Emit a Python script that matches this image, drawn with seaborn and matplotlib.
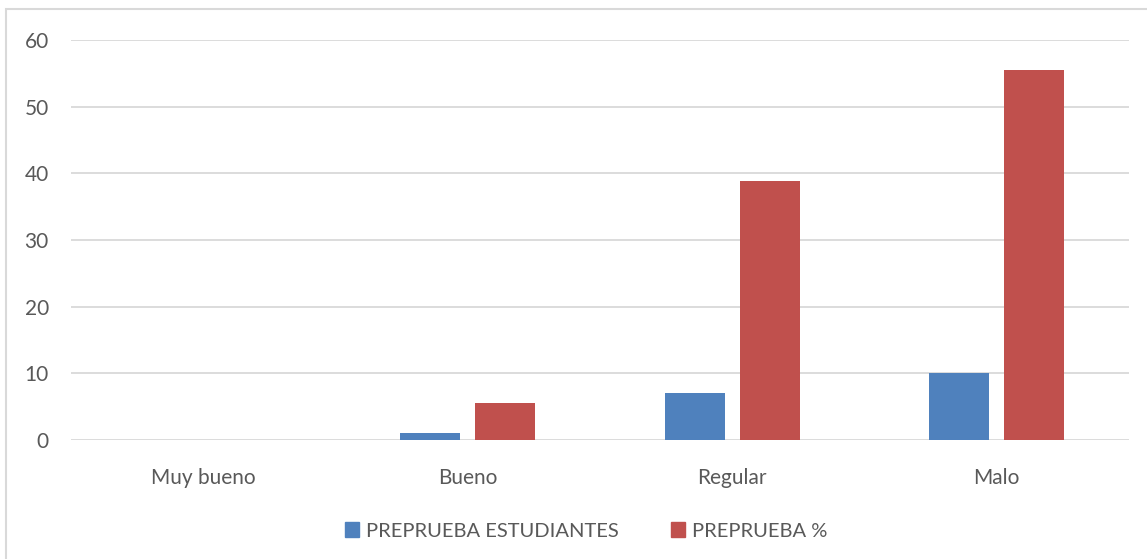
import matplotlib.pyplot as plt
import matplotlib.patches as mpatches
import pandas as pd
import seaborn as sns

categorias = ["Muy bueno", "Bueno", "Regular", "Malo"]
estudiantes = [0, 1, 7, 10]
porcentaje = [0, 5.56, 38.89, 55.56]
series = ["PREPRUEBA ESTUDIANTES", "PREPRUEBA %"]
colores = ["#4f81bd", "#c0504d"]

df = pd.DataFrame({
    "categoria": categorias * 2,
    "valor": estudiantes + porcentaje,
    "serie": [series[0]] * 4 + [series[1]] * 4,
})

sns.set_theme(style="white")
plt.rcParams["font.family"] = ["Lato", "DejaVu Sans"]
gris = "#595959"

fig = plt.figure(figsize=(11.47, 5.59), dpi=100)
W, H = 1147, 559
ax = fig.add_axes([71 / W, 1 - 440 / H, (1129 - 71) / W, 400 / H])

sns.barplot(data=df, x="categoria", y="valor", hue="serie", order=categorias,
            hue_order=series, palette=colores, width=0.567, gap=0.2,
            saturation=1, linewidth=0, ax=ax, legend=False)

ax.set_ylim(0, 60)
ax.set_yticks(range(0, 61, 10))
ax.yaxis.grid(True, color="#d9d9d9", linewidth=1.3)
ax.set_axisbelow(True)
for s in ax.spines.values():
    s.set_visible(False)
ax.set_xlabel("")
ax.set_ylabel("")
ax.tick_params(axis="both", length=0, labelsize=15, labelcolor=gris)
ax.tick_params(axis="y", pad=16)
ax.tick_params(axis="x", pad=20)

# leyenda abajo
handles = [mpatches.Patch(color=c, label=s) for c, s in zip(colores, series)]
fig.legend(handles=handles, loc="center", bbox_to_anchor=(586 / W, 1 - 531 / H),
           ncol=2, frameon=False, fontsize=14.5, labelcolor=gris,
           handlelength=0.7, handleheight=0.7, handletextpad=0.35,
           columnspacing=2.6)

# marco exterior
fig.patches.append(mpatches.Rectangle((6 / W, -0.1), 1.2, 1 - 9 / H + 0.1,
                                      transform=fig.transFigure, fill=False,
                                      edgecolor="#d9d9d9", linewidth=1.5))

fig.savefig("out.png", dpi=100)
